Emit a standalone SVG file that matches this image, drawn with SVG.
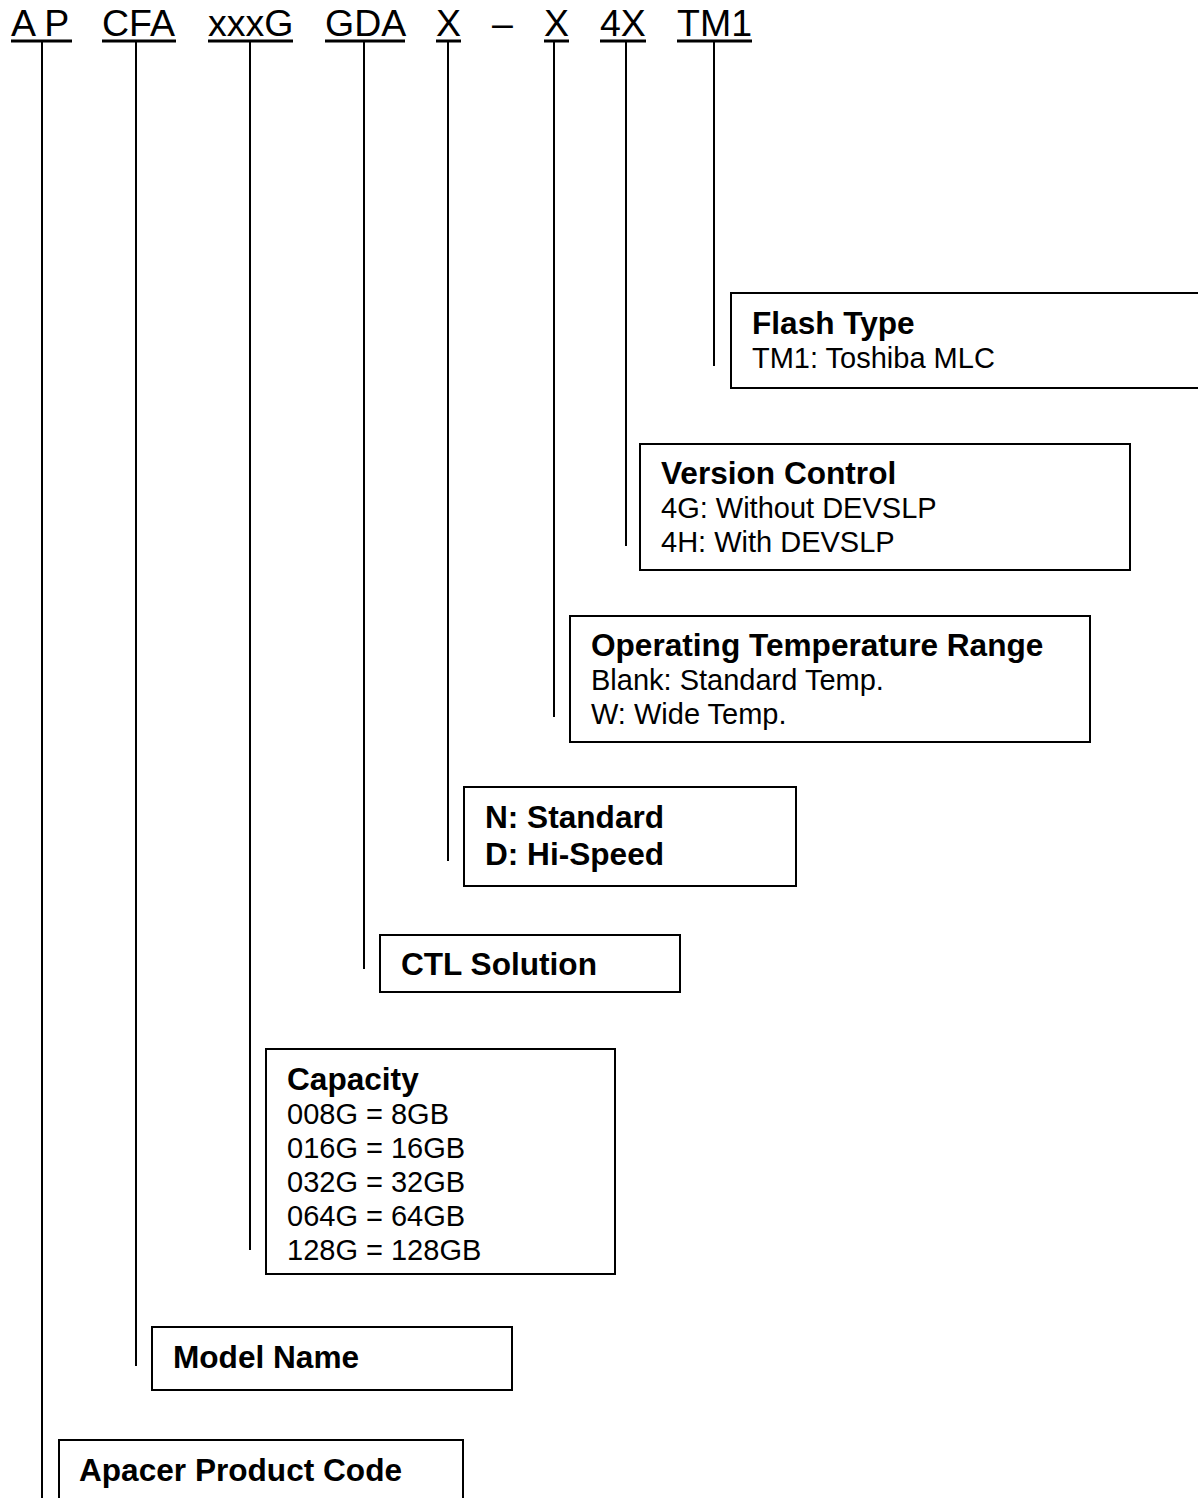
<svg xmlns="http://www.w3.org/2000/svg" width="1198" height="1498" viewBox="0 0 1198 1498">
<style>
.hd{font-family:"Liberation Sans",Arial,sans-serif;font-size:37.5px;fill:#000}
.ul{stroke:#000;stroke-width:3}
.b{font-family:"Liberation Sans",Arial,sans-serif;font-size:31.6px;font-weight:bold;fill:#000}
.r{font-family:"Liberation Sans",Arial,sans-serif;font-size:29px;fill:#000}
.box{fill:#fff;stroke:#000;stroke-width:2}
.ln{stroke:#000;stroke-width:2;fill:none}
</style>
<rect width="1198" height="1498" fill="#fff"/>
<g id="code">
<text class="hd" x="11" y="36">A P</text>
<text class="hd" x="102" y="36">CFA</text>
<text class="hd" x="208" y="36">xxxG</text>
<text class="hd" x="325" y="36">GDA</text>
<text class="hd" x="436" y="36">X</text>
<text class="hd" x="492" y="36">–</text>
<text class="hd" x="544" y="36">X</text>
<text class="hd" x="600" y="36">4X</text>
<text class="hd" x="677" y="36">TM1</text>
<line class="ul" x1="11" y1="41" x2="72" y2="41"/>
<line class="ul" x1="102" y1="41" x2="176" y2="41"/>
<line class="ul" x1="208" y1="41" x2="293" y2="41"/>
<line class="ul" x1="325" y1="41" x2="405" y2="41"/>
<line class="ul" x1="436" y1="41" x2="461" y2="41"/>
<line class="ul" x1="544" y1="41" x2="569" y2="41"/>
<line class="ul" x1="600" y1="41" x2="646" y2="41"/>
<line class="ul" x1="677" y1="41" x2="752" y2="41"/>
</g>
<g id="connectors">
<line class="ln" x1="714" y1="42" x2="714" y2="366"/>
<line class="ln" x1="626" y1="42" x2="626" y2="546"/>
<line class="ln" x1="554" y1="42" x2="554" y2="717"/>
<line class="ln" x1="448" y1="42" x2="448" y2="861"/>
<line class="ln" x1="364" y1="42" x2="364" y2="969"/>
<line class="ln" x1="250" y1="42" x2="250" y2="1250"/>
<line class="ln" x1="136" y1="42" x2="136" y2="1366"/>
<line class="ln" x1="42" y1="42" x2="42" y2="1498"/>
</g>
<g id="flash-type">
<rect class="box" x="731" y="293" width="470" height="95"/>
<text class="b" x="752" y="334">Flash Type</text>
<text class="r" x="752" y="368">TM1: Toshiba MLC</text>
</g>
<g id="version-control">
<rect class="box" x="640" y="444" width="490" height="126"/>
<text class="b" x="661" y="484">Version Control</text>
<text class="r" x="661" y="518">4G: Without DEVSLP</text>
<text class="r" x="661" y="552">4H: With DEVSLP</text>
</g>
<g id="temp-range">
<rect class="box" x="570" y="616" width="520" height="126"/>
<text class="b" x="591" y="656">Operating Temperature Range</text>
<text class="r" x="591" y="690">Blank: Standard Temp.</text>
<text class="r" x="591" y="724">W: Wide Temp.</text>
</g>
<g id="speed">
<rect class="box" x="464" y="787" width="332" height="99"/>
<text class="b" x="485" y="828">N: Standard</text>
<text class="b" x="485" y="865">D: Hi-Speed</text>
</g>
<g id="ctl-solution">
<rect class="box" x="380" y="935" width="300" height="57"/>
<text class="b" x="401" y="975">CTL Solution</text>
</g>
<g id="capacity">
<rect class="box" x="266" y="1049" width="349" height="225"/>
<text class="b" x="287" y="1090">Capacity</text>
<text class="r" x="287" y="1124">008G = 8GB</text>
<text class="r" x="287" y="1158">016G = 16GB</text>
<text class="r" x="287" y="1192">032G = 32GB</text>
<text class="r" x="287" y="1226">064G = 64GB</text>
<text class="r" x="287" y="1260">128G = 128GB</text>
</g>
<g id="model-name">
<rect class="box" x="152" y="1327" width="360" height="63"/>
<text class="b" x="173" y="1368">Model Name</text>
</g>
<g id="product-code">
<rect class="box" x="59" y="1440" width="404" height="70"/>
<text class="b" x="79" y="1481">Apacer Product Code</text>
</g>
</svg>
